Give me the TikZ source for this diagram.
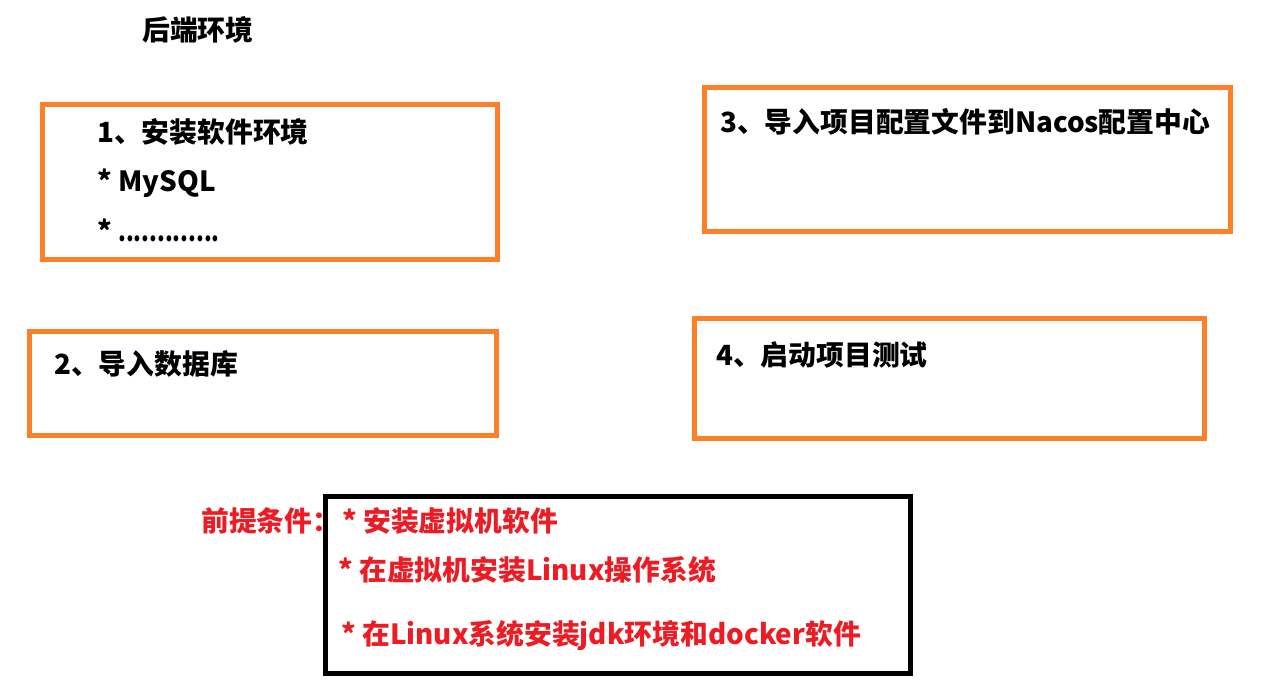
\documentclass[tikz,border=0pt]{standalone}
\usepackage{fontspec}
\usepackage{graphicx}
\setmainfont{Noto Sans CJK SC}
\definecolor{boxorange}{RGB}{253,128,40}
\definecolor{notered}{RGB}{237,28,36}
\tikzset{
  obox/.style={draw=boxorange, line width=5pt, rectangle, inner sep=0pt},
  kbox/.style={draw=black, line width=5pt, rectangle, inner sep=0pt},
  txt/.style={anchor=base west, inner sep=0pt, font=\fontsize{27.8pt}{32pt}\selectfont\bfseries},
  rtxt/.style={txt, text=notered}
}
\begin{document}
\begin{tikzpicture}[x=1pt, y=-1pt]
\useasboundingbox (0,0) rectangle (1282,695);
\node[obox, minimum width=455pt, minimum height=155pt] (b1) at (270,182) {};
\node[obox, minimum width=466.5pt, minimum height=104pt] (b2) at (262.75,383.5) {};
\node[obox, minimum width=526pt, minimum height=143.5pt] (b3) at (967.5,159.25) {};
\node[obox, minimum width=510pt, minimum height=120pt] (b4) at (949.5,378.5) {};
\node[kbox, minimum width=585pt, minimum height=177pt] (b5) at (618,585) {};

\node[txt] (title) at (142,41) {后端环境};
\node[txt] (t1a) at (97,143) {1、安装软件环境};
\node[txt] (t1b) at (97,192) {* MySQL};
\node[txt] (t1c) at (97,241) {* \scalebox{0.8}[1]{.............}};
\node[txt] (t2) at (54,374) {2、导入数据库};
\node[txt] (t3) at (720,133) {3、导入项目配置文件到Nacos配置中心};
\node[txt] (t4) at (716,365) {4、启动项目测试};

\node[rtxt] (pre) at (201,531) {前提条件：};
\node[rtxt] (p1) at (342,531) {* 安装虚拟机软件};
\node[rtxt] (p2) at (338,580) {* 在虚拟机安装Linux操作系统};
\node[rtxt] (p3) at (341,644) {* 在Linux系统安装jdk环境和docker软件};
\end{tikzpicture}
\end{document}
